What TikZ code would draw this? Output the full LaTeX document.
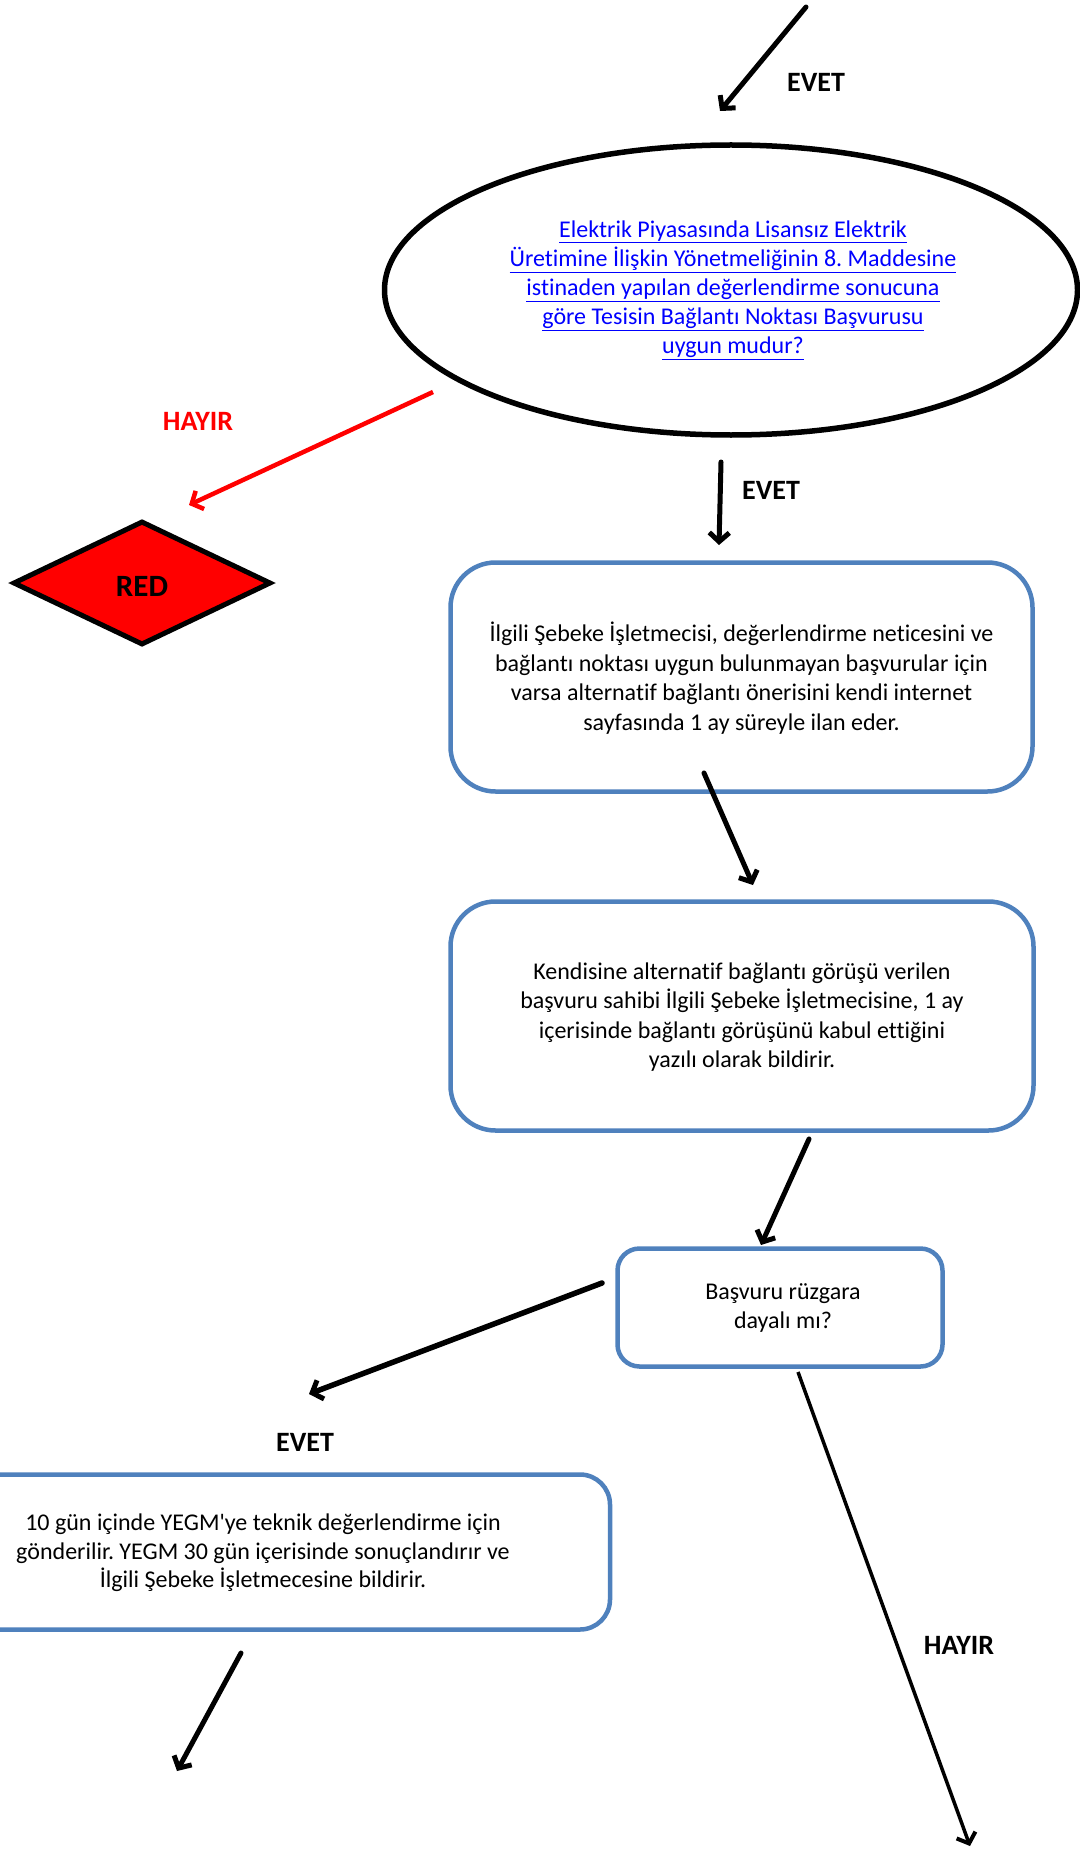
\documentclass[tikz,border=0pt]{standalone}
\usepackage{fontspec}
\setmainfont{Carlito}[Ligatures=NoCommon]
\newfontfamily\plaincarlito{Carlito}[Ligatures=NoCommon]
\usetikzlibrary{shapes.geometric,arrows.meta}
\definecolor{boxblue}{RGB}{79,129,189}
\definecolor{linkblue}{RGB}{0,0,255}
\definecolor{redfill}{RGB}{255,0,0}
\frenchspacing
\begin{document}
\begin{tikzpicture}[x=1pt,y=-1pt,
  arr/.style={line width=5pt,line cap=round,-{Straight Barb[length=9pt,width=20pt,line width=5pt]}},
  thinarr/.style={line width=3.5pt,-{Straight Barb[length=9pt,width=20pt,line width=4pt]}},
  redarr/.style={line width=4.5pt,draw=redfill,-{Straight Barb[length=9pt,width=20pt,line width=4.5pt]}},
  lbl/.style={font=\fontsize{28}{32}\selectfont\bfseries},
  txt/.style={font=\fontsize{24}{29.5}\selectfont,align=center},
  procbox/.style={draw=boxblue,line width=4.5pt,rounded corners=45pt,fill=white,inner sep=0pt},
  lnk/.style={font=\fontsize{24}{29}\selectfont,text=linkblue,align=center}
]
\useasboundingbox (0,0) rectangle (1079,1851);

% Nodes
\node[ellipse,draw,line width=5.5pt,minimum width=693pt,minimum height=290pt,inner sep=0pt] (q1) at (731,290) {};
\node[lnk] (q1t) at (733,290) {\underline{Elektrik Piyasasında Lisansız Elektrik}\\
\underline{Üretimine İlişkin Yönetmeliğinin 8. Maddesine}\\
\underline{istinaden yapılan değerlendirme sonucuna}\\
\underline{göre Tesisin Bağlantı Noktası Başvurusu}\\
\underline{uygun mudur?}};

\node[diamond,draw,line width=5pt,fill=redfill,minimum width=258pt,minimum height=124pt,inner sep=0pt,aspect=2] (red) at (142,583) {};
\node[lbl,font=\fontsize{31}{34}\selectfont\bfseries] (redt) at (142,586) {RED};

\node[procbox,minimum width=582pt,minimum height=229pt] (b1) at (741.5,677) {};
\node[txt] (b1t) at (741.5,678) {İlgili Şebeke İşletmecisi, değerlendirme neticesini ve\\
bağlantı noktası uygun bulunmayan başvurular için\\
varsa alternatif bağlantı önerisini kendi internet\\
sayfasında 1 ay süreyle ilan eder.};

\node[procbox,minimum width=583pt,minimum height=229pt] (b2) at (742,1016) {};
\node[txt] (b2t) at (742,1017) {Kendisine alternatif bağlantı görüşü verilen\\
başvuru sahibi İlgili Şebeke İşletmecisine, 1 ay\\
içerisinde bağlantı görüşünü kabul ettiğini\\
yazılı olarak bildirir.};

\node[procbox,rounded corners=22pt,minimum width=325pt,minimum height=118pt] (b3) at (780,1307.5) {};
\node[txt,font=\fontsize{24}{28.5}\selectfont] (b3t) at (783,1308) {Başvuru rüzgara\\ dayalı mı?};

\node[procbox,rounded corners=30pt,minimum width=694pt,minimum height=155pt] (b4) at (263,1552) {};
\node[txt,font=\fontsize{24}{28.5}\selectfont] (b4t) at (263,1553) {10 gün içinde YEGM{\plaincarlito '}ye teknik değerlendirme için\\
gönderilir. YEGM 30 gün içerisinde sonuçlandırır ve\\
İlgili Şebeke İşletmecesine bildirir.};

% Labels
\node[lbl] (l1) at (816,82) {EVET};
\node[lbl,text=redfill] (l2) at (198,421) {HAYIR};
\node[lbl] (l3) at (771,490) {EVET};
\node[lbl] (l4) at (305,1442) {EVET};
\node[lbl] (l5) at (959,1645) {HAYIR};

% Arrow end points
\coordinate (s1) at (806,7);   \coordinate (e1) at (720,111);
\coordinate (sr) at (433,392); \coordinate (er) at (189,505);
\coordinate (s2) at (721,462); \coordinate (e2) at (719,545);
\coordinate (s3) at (704,773); \coordinate (e3) at (753,885);
\coordinate (s4) at (809,1139);\coordinate (e4) at (761,1245);
\coordinate (s5) at (602,1283);\coordinate (e5) at (309,1394);
\coordinate (s6) at (241,1653);\coordinate (e6) at (177,1771);
\coordinate (s7) at (798,1372);\coordinate (e7) at (970,1846);

% Arrows
\draw[arr] (s1) -- (e1);
\draw[redarr] (sr) -- (er);
\draw[arr] (s2) -- (e2);
\draw[arr] (s3) -- (e3);
\draw[arr] (s4) -- (e4);
\draw[arr,line width=5.5pt] (s5) -- (e5);
\draw[arr] (s6) -- (e6);
\draw[thinarr] (s7) -- (e7);
\end{tikzpicture}
\end{document}
